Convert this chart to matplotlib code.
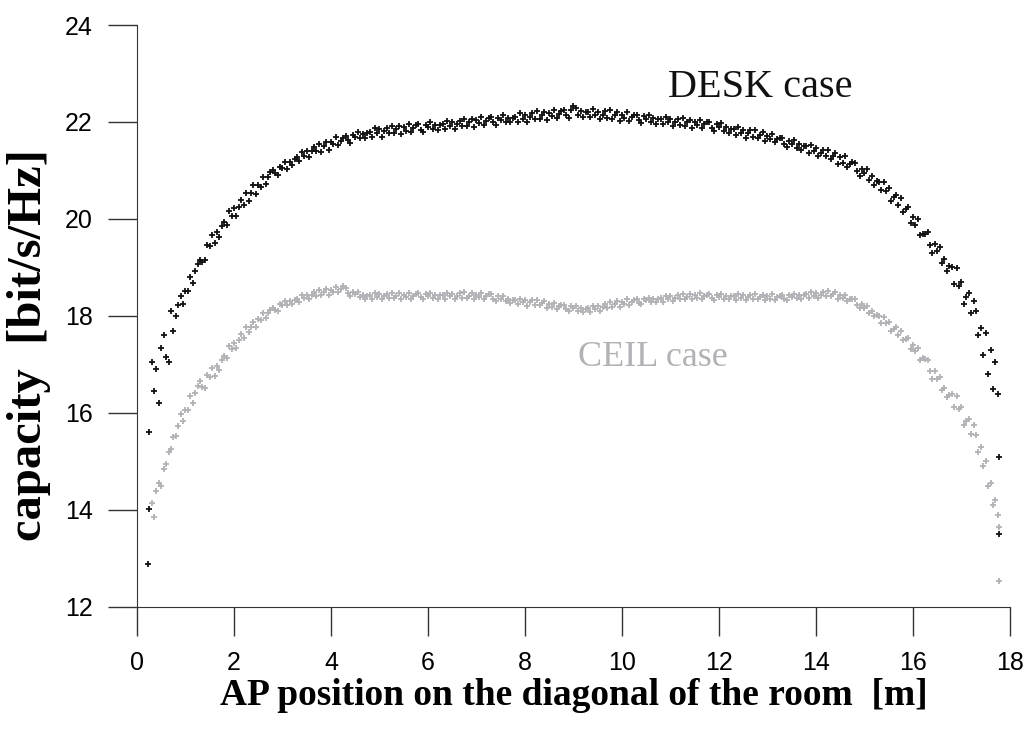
import numpy as np
import matplotlib
matplotlib.use("Agg")
import matplotlib.pyplot as plt

# AP positions along the diagonal [m], one reading every 5 cm
pos = np.linspace(0.3, 17.75, 350)

# DESK case capacity [bit/s/Hz] (10 values per row = 0.5 m)
desk = [
    17.05, 16.45, 16.9, 16.2, 17.35, 17.6, 17.15, 17.05, 18.1, 17.7,
    18.01, 18.23, 18.42, 18.25, 18.51, 18.51, 18.8, 18.68, 18.92, 19.07,
    19.16, 19.12, 19.15, 19.46, 19.45, 19.66, 19.51, 19.73, 19.63, 19.85,
    19.94, 19.88, 20.17, 20.07, 20.22, 20.07, 20.25, 20.39, 20.29, 20.53,
    20.38, 20.54, 20.7, 20.51, 20.7, 20.66, 20.87, 20.72, 20.86, 20.97,
    21.02, 20.94, 20.9, 21.07, 21.05, 21.17, 21.04, 21.18, 21.12, 21.24,
    21.28, 21.2, 21.39, 21.3, 21.4, 21.28, 21.4, 21.49, 21.4, 21.55,
    21.39, 21.5, 21.58, 21.43, 21.59, 21.55, 21.7, 21.53, 21.61, 21.68,
    21.72, 21.62, 21.57, 21.73, 21.7, 21.8, 21.66, 21.76, 21.66, 21.77,
    21.79, 21.69, 21.87, 21.77, 21.85, 21.7, 21.81, 21.88, 21.77, 21.92,
    21.77, 21.85, 21.92, 21.75, 21.89, 21.82, 21.96, 21.79, 21.88, 21.93,
    21.95, 21.84, 21.79, 21.94, 21.9, 21.99, 21.85, 21.94, 21.84, 21.94,
    21.96, 21.85, 22.03, 21.92, 22.0, 21.85, 21.96, 22.03, 21.92, 22.07,
    21.92, 22.0, 22.07, 21.9, 22.04, 21.97, 22.11, 21.94, 22.03, 22.08,
    22.1, 21.99, 21.94, 22.09, 22.05, 22.14, 22.0, 22.09, 21.99, 22.09,
    22.11, 22.0, 22.18, 22.07, 22.15, 22.0, 22.11, 22.18, 22.07, 22.22,
    22.06, 22.15, 22.21, 22.05, 22.18, 22.12, 22.25, 22.09, 22.17, 22.23,
    22.24, 22.14, 22.08, 22.24, 22.33, 22.29, 22.14, 22.23, 22.11, 22.21,
    22.21, 22.1, 22.26, 22.15, 22.21, 22.06, 22.15, 22.22, 22.09, 22.24,
    22.07, 22.15, 22.2, 22.03, 22.15, 22.08, 22.2, 22.03, 22.1, 22.15,
    22.15, 22.04, 21.97, 22.12, 22.06, 22.15, 21.99, 22.08, 21.96, 22.06,
    22.06, 21.95, 22.11, 22.0, 22.06, 21.91, 22.0, 22.07, 21.94, 22.09,
    21.92, 22.0, 22.05, 21.88, 22.0, 21.93, 22.05, 21.88, 21.95, 22.0,
    22.0, 21.88, 21.81, 21.95, 21.89, 21.97, 21.81, 21.89, 21.77, 21.86,
    21.86, 21.74, 21.9, 21.78, 21.84, 21.68, 21.77, 21.83, 21.7, 21.84,
    21.67, 21.74, 21.79, 21.61, 21.72, 21.64, 21.76, 21.58, 21.64, 21.68,
    21.67, 21.55, 21.48, 21.61, 21.55, 21.63, 21.46, 21.54, 21.42, 21.5,
    21.5, 21.37, 21.53, 21.4, 21.46, 21.29, 21.37, 21.43, 21.29, 21.42,
    21.23, 21.3, 21.36, 21.13, 21.27, 21.16, 21.29, 21.07, 21.13, 21.17,
    21.15, 20.99, 20.89, 21.04, 20.95, 21.03, 20.81, 20.89, 20.71, 20.79,
    20.77, 20.59, 20.77, 20.57, 20.63, 20.38, 20.46, 20.5, 20.29, 20.43,
    20.15, 20.21, 20.24, 19.92, 20.04, 19.87, 19.99, 19.66, 19.7, 19.69,
    19.73, 19.46, 19.29, 19.49, 19.33, 19.43, 19.09, 19.18, 18.92, 19.04,
    19.01, 18.65, 18.99, 18.62, 18.71, 18.25, 18.4, 18.48, 18.06, 18.3,
    18.1, 17.6, 17.75, 17.2, 17.65, 16.8, 17.3, 16.5, 17.05, 16.4,
]

# CEIL case capacity [bit/s/Hz]
ceil = [
    14.15, 13.85, 14.4, 14.55, 14.5, 14.85, 14.95, 15.2, 15.25, 15.5,
    15.52, 15.74, 15.97, 15.83, 16.06, 16.06, 16.34, 16.2, 16.42, 16.56,
    16.65, 16.54, 16.51, 16.78, 16.75, 16.92, 16.77, 16.96, 16.88, 17.1,
    17.18, 17.13, 17.39, 17.32, 17.44, 17.34, 17.5, 17.63, 17.54, 17.77,
    17.67, 17.77, 17.88, 17.77, 17.94, 17.91, 18.07, 17.96, 18.06, 18.13,
    18.17, 18.12, 18.11, 18.24, 18.22, 18.3, 18.22, 18.3, 18.24, 18.32,
    18.35, 18.29, 18.43, 18.38, 18.44, 18.35, 18.44, 18.5, 18.42, 18.54,
    18.44, 18.5, 18.56, 18.44, 18.54, 18.5, 18.6, 18.49, 18.56, 18.62,
    18.57, 18.47, 18.41, 18.5, 18.45, 18.5, 18.39, 18.44, 18.36, 18.42,
    18.43, 18.35, 18.47, 18.4, 18.45, 18.34, 18.41, 18.46, 18.37, 18.48,
    18.37, 18.42, 18.47, 18.35, 18.44, 18.39, 18.48, 18.36, 18.42, 18.45,
    18.47, 18.39, 18.35, 18.46, 18.42, 18.48, 18.38, 18.44, 18.36, 18.43,
    18.44, 18.36, 18.48, 18.41, 18.46, 18.35, 18.42, 18.47, 18.38, 18.49,
    18.37, 18.42, 18.47, 18.35, 18.44, 18.39, 18.48, 18.36, 18.42, 18.45,
    18.45, 18.36, 18.31, 18.41, 18.36, 18.41, 18.3, 18.35, 18.26, 18.32,
    18.33, 18.24, 18.36, 18.28, 18.33, 18.21, 18.28, 18.32, 18.23, 18.33,
    18.22, 18.26, 18.3, 18.17, 18.25, 18.19, 18.27, 18.15, 18.2, 18.22,
    18.23, 18.14, 18.1, 18.2, 18.16, 18.21, 18.11, 18.16, 18.08, 18.15,
    18.16, 18.09, 18.21, 18.15, 18.21, 18.11, 18.19, 18.25, 18.17, 18.29,
    18.19, 18.25, 18.3, 18.19, 18.29, 18.24, 18.34, 18.23, 18.29, 18.33,
    18.35, 18.27, 18.24, 18.35, 18.32, 18.38, 18.29, 18.35, 18.28, 18.35,
    18.37, 18.29, 18.42, 18.35, 18.41, 18.3, 18.38, 18.43, 18.34, 18.46,
    18.35, 18.4, 18.46, 18.34, 18.43, 18.38, 18.47, 18.35, 18.41, 18.44,
    18.45, 18.37, 18.33, 18.44, 18.4, 18.46, 18.36, 18.42, 18.34, 18.41,
    18.41, 18.33, 18.45, 18.38, 18.43, 18.32, 18.39, 18.44, 18.35, 18.46,
    18.34, 18.39, 18.44, 18.32, 18.41, 18.36, 18.45, 18.33, 18.39, 18.42,
    18.43, 18.35, 18.32, 18.43, 18.39, 18.46, 18.37, 18.43, 18.36, 18.43,
    18.45, 18.37, 18.49, 18.42, 18.48, 18.37, 18.44, 18.5, 18.41, 18.52,
    18.41, 18.45, 18.49, 18.36, 18.43, 18.37, 18.44, 18.3, 18.34, 18.35,
    18.34, 18.23, 18.16, 18.24, 18.17, 18.2, 18.07, 18.1, 17.99, 18.02,
    18.01, 17.86, 17.98, 17.85, 17.87, 17.69, 17.74, 17.77, 17.61, 17.7,
    17.5, 17.53, 17.55, 17.32, 17.4, 17.27, 17.35, 17.1, 17.14, 17.12,
    17.09, 16.86, 16.71, 16.86, 16.71, 16.75, 16.47, 16.51, 16.32, 16.38,
    16.4, 16.12, 16.35, 16.08, 16.12, 15.76, 15.84, 15.88, 15.56, 15.75,
    15.55, 15.2, 15.3, 14.9, 15.0, 14.5, 14.55, 14.1, 14.2, 13.9,
]

# isolated points at the two ends of the diagonal
desk_out_x = [0.22, 0.24, 0.24, 17.77, 17.77]
desk_out_y = [12.88, 14.02, 15.6, 15.1, 13.5]
ceil_out_x = [17.77, 17.77]
ceil_out_y = [13.65, 12.54]

black = "#111111"
grey = "#b2b2b6"

fig = plt.figure(figsize=(10.27, 7.29), dpi=100)
ax = fig.add_axes([0.1334, 0.1674, 0.85, 0.7983])

ax.scatter(pos, ceil, marker="+", s=16, linewidths=1.3, color=grey, zorder=2)
ax.scatter(ceil_out_x, ceil_out_y, marker="+", s=16, linewidths=1.3, color=grey, zorder=2)
ax.scatter(pos, desk, marker="+", s=16, linewidths=1.3, color=black, zorder=3)
ax.scatter(desk_out_x, desk_out_y, marker="+", s=16, linewidths=1.3, color=black, zorder=3)

ax.set_xlim(0, 18)
ax.set_ylim(12, 24)
ax.set_xticks(range(0, 19, 2))
ax.set_yticks(range(12, 25, 2))

for side in ["top", "right"]:
    ax.spines[side].set_visible(False)
ax.spines["left"].set_color("#333333")
ax.spines["bottom"].set_color("#333333")
ax.tick_params(direction="out", length=21, width=1, color="#333333", pad=11,
               labelsize=18, labelfontfamily="Liberation Sans")

serif = "Liberation Serif"
ax.set_xlabel("AP position on the diagonal of the room  [m]", family=serif,
              fontweight="bold", fontsize=27, labelpad=2)
ax.set_ylabel("capacity  [bit/s/Hz]", family=serif, fontweight="bold",
              fontsize=35)
ax.yaxis.set_label_coords(-0.098, 0.45)

ax.text(10.95, 22.72, "DESK case", family=serif, fontsize=29, color=black,
        va="center", ha="left")
ax.text(9.09, 17.15, "CEIL case", family=serif, fontsize=26, color=grey,
        va="center", ha="left")

fig.savefig("out.png", dpi=100)
